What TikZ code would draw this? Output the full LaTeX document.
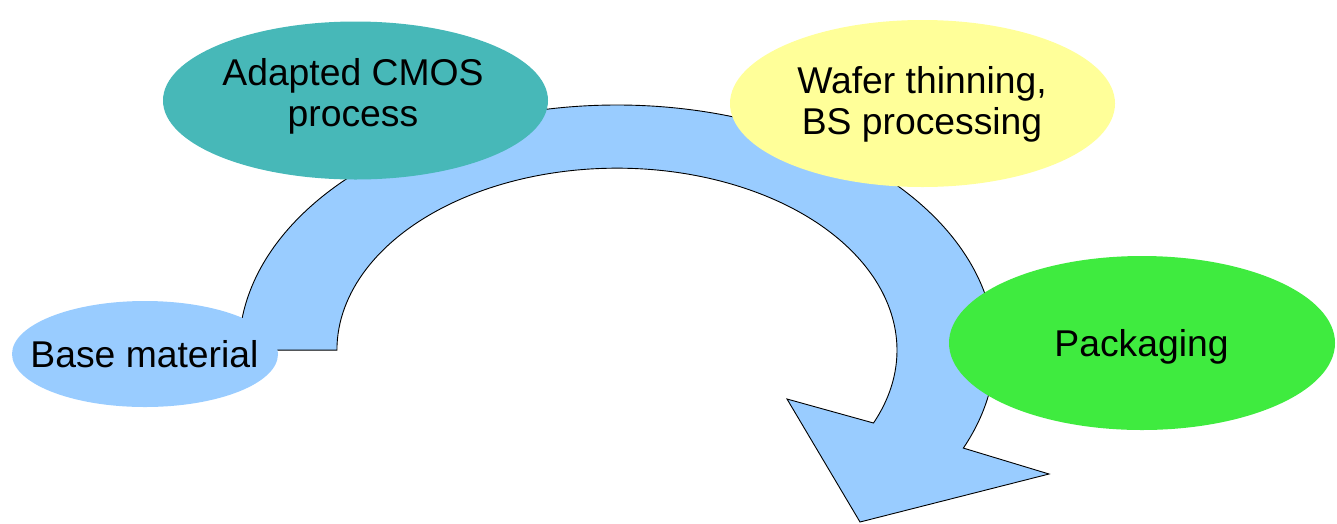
\documentclass[tikz,border=0pt]{standalone}
\usepackage{fontspec}
\setmainfont{Liberation Sans}
\usetikzlibrary{shapes.geometric}
\definecolor{arrowblue}{HTML}{99CCFF}
\definecolor{tealc}{HTML}{47B8B8}
\definecolor{yellowc}{HTML}{FFFF99}
\definecolor{greenc}{HTML}{3FEB3F}
\begin{document}
\begin{tikzpicture}[x=1pt,y=-1pt,
  blob/.style={ellipse, draw=none, inner sep=0pt},
  lbl/.style={inner sep=0pt, align=center, font=\fontsize{37.3}{41}\selectfont},
  bigarrow/.style={fill=arrowblue, draw=black, line width=0.9pt, line join=miter}]
\useasboundingbox (0,0) rectangle (1337,523);
% curved arrow
\draw[bigarrow] (239,350) arc[start angle=180, end angle=383.6, x radius=378, y radius=245]
  -- (1049,474) -- (860,522) -- (787,399) -- (873.5,423)
  arc[start angle=383.6, end angle=180, x radius=280, y radius=182] -- cycle;
% ellipses
\node[blob, fill=arrowblue, minimum width=266pt, minimum height=106pt] (base) at (145,354) {};
\node[blob, fill=tealc, minimum width=385pt, minimum height=158pt] (cmos) at (355.5,100.5) {};
\node[blob, fill=yellowc, minimum width=385pt, minimum height=167pt] (wafer) at (922.5,103.5) {};
\node[blob, fill=greenc, minimum width=386pt, minimum height=174pt] (pack) at (1142,343) {};
% labels
\node[lbl] (baset) at (144.5,354.5) {Base material};
\node[lbl] (cmost) at (353,96) {Adapted CMOS\\process};
\node[lbl] (wafert) at (922,104) {Wafer thinning,\\BS processing};
\node[lbl] (packt) at (1141.5,346.5) {Packaging};
\end{tikzpicture}
\end{document}
